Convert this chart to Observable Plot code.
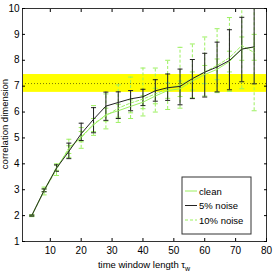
<!DOCTYPE html>
<html><head><meta charset="utf-8">
<script src="https://cdn.jsdelivr.net/npm/d3@7"></script>
<script src="https://cdn.jsdelivr.net/npm/@observablehq/plot@0.6"></script>
<style>body{margin:0;background:#fff}svg{font-family:"Liberation Sans",Arial,sans-serif}</style>
</head><body><div id="chart"></div>
<script>
const tau = [4,8,12,16,20,24,28,32,36,40,44,48,52,56,60,64,68,72,76];
const clean    = [2.0,2.98,3.85,4.55,5.05,5.5,5.9,6.05,6.22,6.38,6.62,6.83,6.9,7.2,7.45,7.65,7.95,8.45,8.5];
const cleanLo  = [1.98,2.93,3.75,4.4,4.85,5.25,5.65,5.8,5.97,6.13,6.32,6.53,6.6,6.85,7.1,7.25,7.55,8.0,8.0];
const cleanHi  = [2.02,3.03,3.95,4.7,5.25,5.75,6.15,6.3,6.47,6.63,6.92,7.13,7.2,7.55,7.8,8.05,8.35,8.9,9.0];
const noise5   = [2.0,2.97,3.83,4.48,5.16,5.72,6.23,6.37,6.51,6.59,6.82,6.94,6.99,7.29,7.54,7.74,7.99,8.43,8.52];
const noise5Lo = [1.98,2.92,3.71,4.2,4.9,5.2,5.68,5.75,6.05,6.25,6.42,6.45,6.28,6.52,6.58,6.78,6.86,7.17,7.09];
const noise5Hi = [2.02,3.03,3.96,4.8,5.57,6.17,6.77,6.78,6.83,6.88,7.25,7.47,7.66,8.03,8.27,8.7,9.18,9.66,10.3];
const noise10   = [2.0,2.95,3.78,4.62,5.0,5.55,5.85,6.15,6.35,6.5,6.7,6.9,7.05,7.3,7.55,7.8,8.1,8.57,8.3];
const noise10Lo = [1.96,2.8,3.55,4.25,4.6,5.1,5.35,5.6,5.75,5.85,6.0,6.1,6.15,6.55,6.62,6.75,6.8,6.9,6.05];
const noise10Hi = [2.04,3.1,4.0,4.95,5.4,6.25,6.7,7.05,7.35,7.7,7.7,8.0,8.5,8.63,8.9,9.22,9.65,10.2,10.3];
const band = [{lo:6.76, mid:7.1, hi:7.45}];
const xTicks = [10,20,30,40,50,60,70,80];
const yTicks = [1,2,3,4,5,6,7,8,9,10];
const seriesNames = ["clean","5% noise","10% noise"];

const green = "#9cf060";
const rows = tau.map((t,i)=>({t, clean:clean[i], cLo:cleanLo[i], cHi:cleanHi[i],
  n5:noise5[i], n5Lo:noise5Lo[i], n5Hi:noise5Hi[i], n10:noise10[i], n10Lo:noise10Lo[i], n10Hi:noise10Hi[i]}));

const capSymbol = {draw(ctx, size){ const w = Math.sqrt(size/Math.PI); ctx.moveTo(-w,0); ctx.lineTo(w,0); }};

function errBars(lo, hi, color, dash){
  return [
    Plot.ruleX(rows, {x:"t", y1:lo, y2:hi, stroke:color, strokeWidth:1, strokeDasharray:dash, clip:true}),
    Plot.dot(rows, {x:"t", y:lo, symbol:capSymbol, r:2.5, stroke:color, strokeWidth:1, clip:true}),
    Plot.dot(rows, {x:"t", y:hi, symbol:capSymbol, r:2.5, stroke:color, strokeWidth:1, clip:true})
  ];
}

const plot = Plot.plot({
  width:273, height:273,
  marginLeft:22, marginRight:7, marginTop:8, marginBottom:32,
  x:{domain:[1,80]},
  y:{domain:[1,10]},
  style:{fontSize:"10px", fontFamily:"Liberation Sans, Arial, sans-serif"},
  marks:[
    Plot.rect(band, {x1:1, x2:80, y1:"lo", y2:"hi", fill:"#ffff00"}),
    Plot.ruleY(band, {y:"mid", stroke:"#7a7a00", strokeDasharray:"1,2", strokeWidth:1}),
    ...errBars("cLo","cHi", green, null),
    ...errBars("n10Lo","n10Hi", green, "3,2"),
    ...errBars("n5Lo","n5Hi", "#222", null),
    Plot.line(rows, {x:"t", y:"clean", stroke:green, strokeWidth:1}),
    Plot.line(rows, {x:"t", y:"n10", stroke:green, strokeWidth:1, strokeDasharray:"3,2"}),
    Plot.line(rows, {x:"t", y:"n5", stroke:"#222", strokeWidth:1}),
    Plot.frame({stroke:"#333"}),
    Plot.axisX(xTicks, {anchor:"bottom", tickSize:-3, tickPadding:8, label:null, fontSize:10}),
    Plot.axisX(xTicks, {anchor:"top", tickSize:-3, tickFormat:()=>"", label:null}),
    Plot.axisY(yTicks, {anchor:"left", tickSize:-3, tickPadding:6, label:null, fontSize:10}),
    Plot.axisY(yTicks, {anchor:"right", tickSize:-3, tickFormat:()=>"", label:null})
  ]
});
document.getElementById("chart").appendChild(plot);

const svg = d3.select(plot);
// x label with subscript
const xl = svg.append("text").attr("x", 144).attr("y", 268).attr("text-anchor","middle")
  .attr("font-size", 9.5).attr("fill","#000");
xl.append("tspan").text("time window length τ");
xl.append("tspan").attr("font-size", 7).attr("dy", 2.5).text("w");
// y label
svg.append("text").attr("transform","translate(8,124) rotate(-90)").attr("text-anchor","middle")
  .attr("font-size", 9.5).attr("fill","#000").text("correlation dimension");

// legend
const lg = svg.append("g").attr("transform","translate(182,177)");
lg.append("rect").attr("width",69).attr("height",57).attr("fill","#fff").attr("stroke","#333");
const styles = [{c:green, d:"none"},{c:"#222", d:"none"},{c:green, d:"3,2"}];
seriesNames.forEach((name,i)=>{
  const y = 14 + i*14.5;
  lg.append("line").attr("x1",3).attr("x2",15).attr("y1",y).attr("y2",y)
    .attr("stroke",styles[i].c).attr("stroke-width",1).attr("stroke-dasharray",styles[i].d);
  lg.append("text").attr("x",17).attr("y",y+3.5).attr("text-anchor","start")
    .attr("font-size",9.5).attr("fill","#000").text(name);
});
</script>
</body></html>
